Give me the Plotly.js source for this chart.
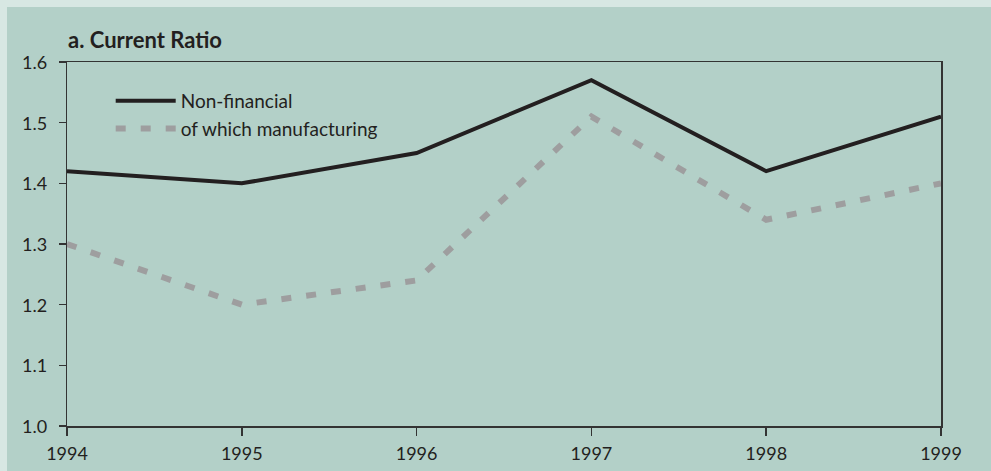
<!DOCTYPE html>
<html><head><meta charset="utf-8">
<script src="https://cdn.plot.ly/plotly-3.0.1.min.js"></script>
<style>
html,body{margin:0;padding:0;background:#d7e7e3;width:991px;height:471px;overflow:hidden;}
#chart{position:absolute;left:7px;top:7px;width:984px;height:464px;}
</style></head><body>
<div id="chart"></div>
<script>
const years = [1994, 1995, 1996, 1997, 1998, 1999];
const nonFinancial = [1.42, 1.40, 1.45, 1.57, 1.42, 1.51];
const manufacturing = [1.30, 1.20, 1.24, 1.51, 1.34, 1.40];
const seriesNames = ["Non-financial", "of which manufacturing"];
const yTicks = [1.0, 1.1, 1.2, 1.3, 1.4, 1.5, 1.6];
const yTickText = ["1.0", "1.1", "1.2", "1.3", "1.4", "1.5", "1.6"];

const fam = "Lato, 'DejaVu Sans', sans-serif";
const font = {family: fam, size: 18, color: "#231f20"};
const traces = [
  {x: years, y: nonFinancial, name: seriesNames[0], type: "scatter", mode: "lines",
   line: {color: "#231f20", width: 4}},
  {x: years, y: manufacturing, name: seriesNames[1], type: "scatter", mode: "lines",
   line: {color: "#9e9e9f", width: 6, dash: "10px,15px"}}
];
const yLabelAnnots = yTicks.map((v, i) => ({
  xref: "paper", yref: "y", x: 0, y: v, xanchor: "right", yanchor: "middle",
  xshift: -18, text: yTickText[i], showarrow: false, font: font
}));
const layout = {
  width: 984, height: 464,
  margin: {l: 60, r: 50, t: 55, b: 45},
  paper_bgcolor: "#b3d0c8", plot_bgcolor: "#b3d0c8",
  font: font,
  title: {text: "<b>a. Current Ratio</b>", x: 0, xref: "paper", xanchor: "left",
          y: 1, yref: "paper", yanchor: "bottom", pad: {b: 14, l: 1},
          font: {family: fam, size: 22, color: "#231f20"}},
  showlegend: true,
  legend: {x: 0.05, y: 0.945, xanchor: "left", yanchor: "top", bgcolor: "rgba(0,0,0,0)",
           font: {family: fam, size: 19, color: "#231f20"}, itemwidth: 60, tracegroupgap: 0},
  annotations: yLabelAnnots,
  xaxis: {range: [1994, 1999], tickvals: years, ticktext: years.map(String),
          showgrid: false, zeroline: false, showline: true, linecolor: "#333", linewidth: 1.5,
          mirror: true, ticks: "outside", ticklen: 8, tickcolor: "#333", tickwidth: 1.5,
          ticklabelstandoff: 3, tickfont: font, fixedrange: true},
  yaxis: {range: [1.0, 1.6], tickvals: yTicks, showticklabels: false,
          showgrid: false, zeroline: false, showline: true, linecolor: "#333", linewidth: 1.5,
          mirror: true, ticks: "outside", ticklen: 7, tickcolor: "#333", tickwidth: 1.5,
          tickfont: font, fixedrange: true}
};
Plotly.newPlot("chart", traces, layout, {displayModeBar: false, staticPlot: true});
</script>
</body></html>
